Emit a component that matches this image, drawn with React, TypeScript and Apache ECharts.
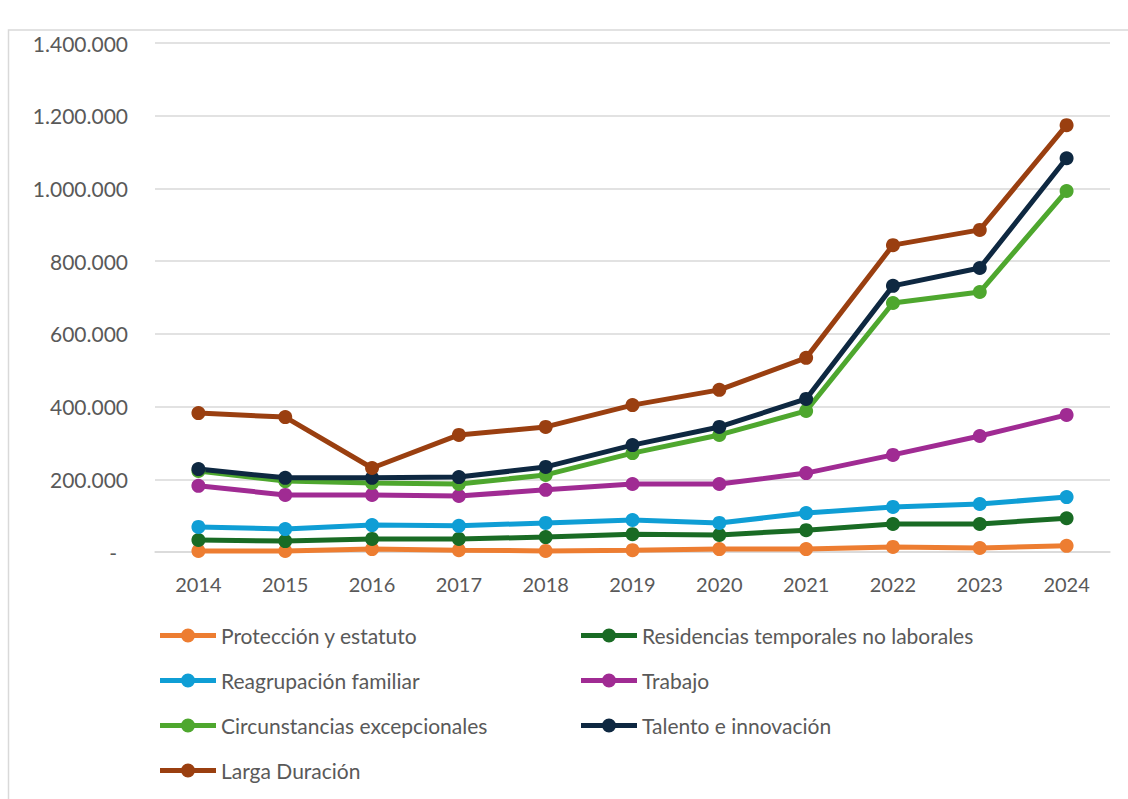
import React, { useEffect, useRef } from "react";
import * as echarts from "echarts";

const years = ["2014", "2015", "2016", "2017", "2018", "2019", "2020", "2021", "2022", "2023", "2024"];
const yTicks = [0, 200000, 400000, 600000, 800000, 1000000, 1200000, 1400000];

const proteccion = [3000, 3000, 8000, 5000, 3000, 5000, 8000, 8000, 14000, 11000, 17000];
const residencias = [33000, 30000, 36000, 36000, 41000, 49000, 47000, 60000, 77000, 77000, 93000];
const reagrupacion = [69000, 63000, 74000, 72000, 80000, 88000, 80000, 107000, 124000, 132000, 151000];
const trabajo = [182000, 157000, 157000, 154000, 171000, 187000, 187000, 217000, 267000, 319000, 377000];
const circunstancias = [223000, 195000, 190000, 187000, 212000, 272000, 322000, 388000, 685000, 715000, 993000];
const talento = [228000, 204000, 204000, 206000, 234000, 294000, 344000, 421000, 732000, 781000, 1083000];
const largaDuracion = [382000, 371000, 231000, 322000, 344000, 404000, 446000, 534000, 844000, 886000, 1174000];

const seriesDefs = [
  { name: "Protección y estatuto", data: proteccion, color: "#ED7D31" },
  { name: "Residencias temporales no laborales", data: residencias, color: "#196B24" },
  { name: "Reagrupación familiar", data: reagrupacion, color: "#0F9ED5" },
  { name: "Trabajo", data: trabajo, color: "#A02B93" },
  { name: "Circunstancias excepcionales", data: circunstancias, color: "#4EA72E" },
  { name: "Talento e innovación", data: talento, color: "#0E2841" },
  { name: "Larga Duración", data: largaDuracion, color: "#9A3F10" },
];

const leftLegend = ["Protección y estatuto", "Reagrupación familiar", "Circunstancias excepcionales", "Larga Duración"];
const rightLegend = ["Residencias temporales no laborales", "Trabajo", "Talento e innovación"];

const FONT = "Lato, 'Open Sans', sans-serif";
const LEGEND_ICON = "path://M0 4.5L56 4.5L56 9.5L0 9.5Z M21 7A7 7 0 1 1 35 7A7 7 0 1 1 21 7Z";

function fmt(v: number): string {
  if (v === 0) return "{d|-}";
  return String(v).replace(/\B(?=(\d{3})+(?!\d))/g, ".");
}

export default function App() {
  const ref = useRef<HTMLDivElement>(null);
  useEffect(() => {
    if (!ref.current) return;
    const chart = echarts.init(ref.current, undefined, { renderer: "svg" });
    const legendCommon = {
      orient: "vertical" as const,
      icon: LEGEND_ICON,
      itemWidth: 56,
      itemHeight: 14,
      itemGap: 24,
      textStyle: { fontFamily: FONT, fontSize: 21, lineHeight: 21, color: "#595959", padding: [0, 0, 0, 0] },
    };
    chart.setOption({
      animation: false,
      backgroundColor: "#ffffff",
      textStyle: { fontFamily: FONT },
      graphic: [
        {
          type: "rect",
          shape: { x: 8.5, y: 30, width: 1140, height: 800 },
          style: { fill: "none", stroke: "#d9d9d9", lineWidth: 1.5 },
          silent: true,
        },
      ],
      grid: { left: 155, right: 18, top: 43, bottom: 247 },
      legend: [
        { ...legendCommon, left: 155, top: 620, data: leftLegend },
        { ...legendCommon, left: 576, top: 620, data: rightLegend },
      ],
      xAxis: {
        type: "category",
        data: years,
        boundaryGap: true,
        axisLine: { show: true, lineStyle: { color: "#d9d9d9", width: 1.5 } },
        axisTick: { show: false },
        axisLabel: { fontFamily: FONT, fontSize: 20, color: "#595959", margin: 22 },
      },
      yAxis: {
        type: "value",
        min: yTicks[0],
        max: yTicks[yTicks.length - 1],
        interval: 200000,
        axisLine: { show: false },
        axisTick: { show: false },
        splitLine: { lineStyle: { color: "#d9d9d9", width: 1.5 } },
        axisLabel: {
          fontFamily: FONT,
          fontSize: 21,
          color: "#595959",
          margin: 27,
          formatter: fmt,
          rich: { d: { fontFamily: FONT, fontSize: 21, color: "#595959", padding: [0, 11, 0, 0] } },
        },
      },
      series: seriesDefs.map((s) => ({
        type: "line",
        name: s.name,
        data: s.data,
        symbol: "circle",
        symbolSize: 14,
        lineStyle: { width: 5, color: s.color },
        itemStyle: { color: s.color },
        z: 2,
      })),
    });
    return () => chart.dispose();
  }, []);
  return <div ref={ref} style={{ position: "absolute", left: 0, top: 0, width: 1128, height: 799 }} />;
}
